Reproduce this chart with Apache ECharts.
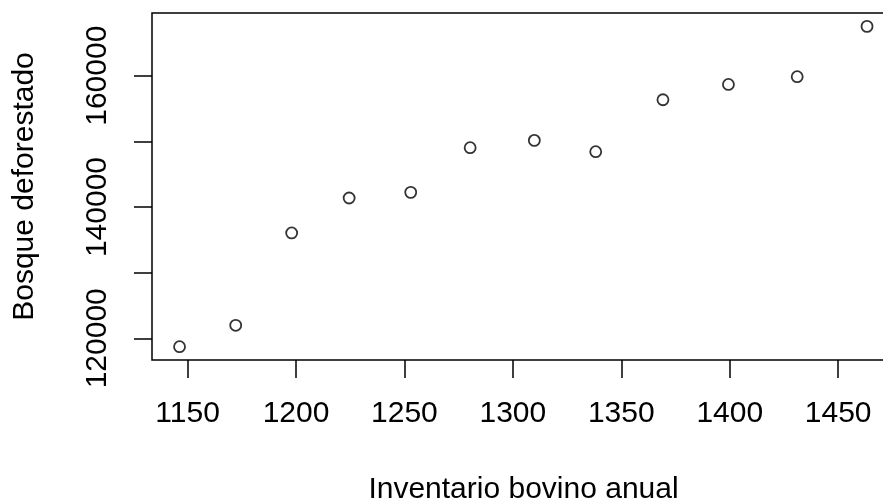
<!DOCTYPE html>
<html>
<head>
<meta charset="utf-8">
<script src="https://cdn.jsdelivr.net/npm/echarts@6/dist/echarts.min.js"></script>
<style>
html,body{margin:0;padding:0;background:#fff;}
#c{width:883px;height:503px;}
</style>
</head>
<body>
<div id="c"></div>
<script>
// Data
const inventarioBovino = [1146.3, 1172.2, 1198.0, 1224.5, 1252.9, 1280.3, 1309.9, 1338.2, 1369.2, 1399.4, 1431.1, 1463.3];
const bosqueDeforestado = [118720, 121980, 136050, 141370, 142230, 149040, 150150, 148430, 156340, 158670, 159850, 167520];
const xTickValues = [1150, 1200, 1250, 1300, 1350, 1400, 1450];
const yTickValues = [120000, 130000, 140000, 150000, 160000];
const yLabelValues = [120000, 140000, 160000];
const xTitle = 'Inventario bovino anual';
const yTitle = 'Bosque deforestado';

const points = inventarioBovino.map((x, i) => [x, bosqueDeforestado[i]]);
const font = '"Liberation Sans", Arial, sans-serif';

const chart = echarts.init(document.getElementById('c'), null, {renderer: 'canvas'});
chart.setOption({
  animation: false,
  backgroundColor: '#fff',
  grid: {
    left: 152, top: 13, width: 743, height: 347,
    outerBoundsMode: 'none',
    containLabel: false,
    show: true, borderColor: '#000', borderWidth: 1.5, backgroundColor: 'transparent'
  },
  xAxis: {
    type: 'value',
    min: 1133.6, max: 1476.2,
    name: xTitle,
    nameLocation: 'middle',
    nameGap: 115,
    nameTextStyle: {fontFamily: font, fontSize: 30, color: '#000'},
    axisLine: {show: false},
    splitLine: {show: false},
    axisTick: {show: true, length: 18, inside: false, customValues: xTickValues, lineStyle: {color: '#000', width: 1.5}},
    axisLabel: {show: true, margin: 39, customValues: xTickValues, formatter: v => String(Math.round(v)), fontFamily: font, fontSize: 30, color: '#000'}
  },
  yAxis: {
    type: 'value',
    min: 116692, max: 169558,
    name: yTitle,
    nameLocation: 'middle',
    nameGap: 112,
    nameRotate: 90,
    nameTextStyle: {fontFamily: font, fontSize: 30, color: '#000'},
    axisLine: {show: false},
    splitLine: {show: false},
    axisTick: {show: true, length: 18, inside: false, customValues: yTickValues, lineStyle: {color: '#000', width: 1.5}},
    axisLabel: {show: true, margin: 39, rotate: 90, customValues: yLabelValues, formatter: v => String(Math.round(v)), fontFamily: font, fontSize: 30, color: '#000'}
  },
  series: [{
    type: 'scatter',
    data: points,
    symbol: 'circle',
    symbolSize: 11,
    itemStyle: {color: 'transparent', borderColor: '#000', borderWidth: 1.8},
    clip: false
  }]
});
</script>
</body>
</html>
